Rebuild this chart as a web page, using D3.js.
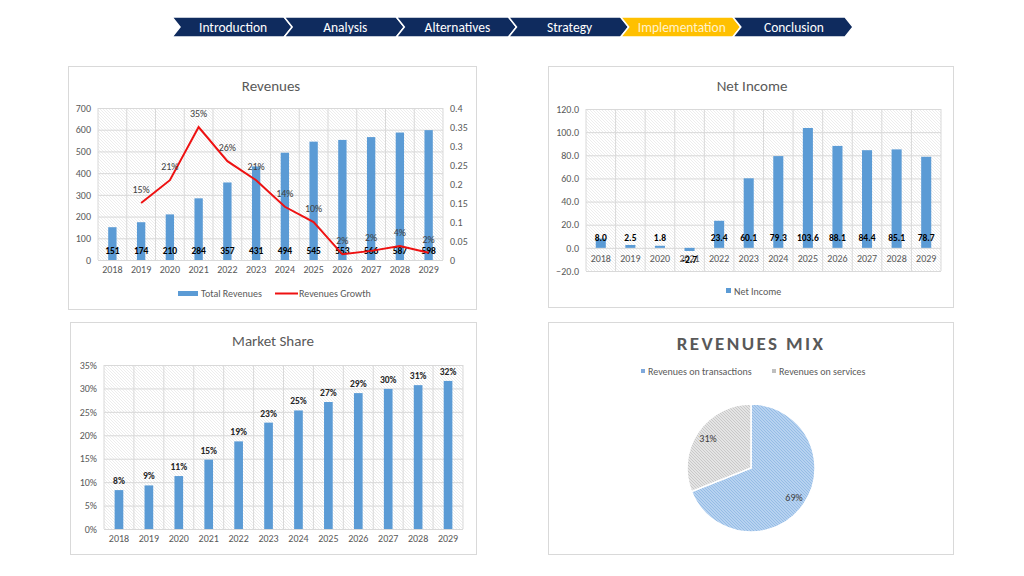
<!DOCTYPE html>
<html lang="en">
<head>
  <meta charset="UTF-8">
  <title>Financial Dashboard</title>
  <style>
    body { margin: 0; background: #fff; }
    * { font-family: Carlito, Calibri, "Open Sans", sans-serif; }
    .tick text { fill: #595959; font-size: 10px; }
    .grid line { stroke: #d9d9d9; stroke-width: 1; }
    .title { fill: #595959; font-size: 15px; text-anchor: middle; }
    .legend { fill: #595959; font-size: 10px; }
  </style>
</head>
<body>
<div id="chart"></div>
<script src="https://d3js.org/d3.v7.min.js"></script>
<script>
  // ---- data ----
  var navSteps = ["Introduction", "Analysis", "Alternatives", "Strategy", "Implementation", "Conclusion"];
  var activeStep = "Implementation";

  var years = ["2018", "2019", "2020", "2021", "2022", "2023", "2024", "2025", "2026", "2027", "2028", "2029"];
  var totalRevenues = [151, 174, 210, 284, 357, 431, 494, 545, 553, 566, 587, 598];
  var revenuesGrowth = [null, 0.15, 0.21, 0.35, 0.26, 0.21, 0.14, 0.10, 0.015, 0.024, 0.037, 0.019];
  var revTicks = [0, 100, 200, 300, 400, 500, 600, 700];
  var growthTicks = [0, 0.05, 0.1, 0.15, 0.2, 0.25, 0.3, 0.35, 0.4];

  var netIncome = [8.0, 2.5, 1.8, -2.7, 23.4, 60.1, 79.3, 103.6, 88.1, 84.4, 85.1, 78.7];
  var niTicks = [-20, 0, 20, 40, 60, 80, 100, 120];

  var marketShare = [0.083, 0.093, 0.113, 0.148, 0.187, 0.227, 0.253, 0.271, 0.290, 0.299, 0.307, 0.316];
  var msTicks = [0, 0.05, 0.1, 0.15, 0.2, 0.25, 0.3, 0.35];

  var mixLabels = ["Revenues on transactions", "Revenues on services"];
  var mixValues = [69, 31];

  var blue = "#5b9bd5";
  var gray = "#595959";

  var svg = d3.select("#chart").append("svg")
      .attr("width", 1024)
      .attr("height", 576);

  // patterns
  var defs = svg.append("defs");
  function hatch(id, bg, fg, size) {
    var p = defs.append("pattern")
        .attr("id", id)
        .attr("width", size).attr("height", size)
        .attr("patternUnits", "userSpaceOnUse");
    p.append("rect").attr("width", size).attr("height", size).attr("fill", bg);
    p.append("path")
        .attr("d", `M0,0 l${size},${size} M-1,${size - 1} l2,2 M${size - 1},-1 l2,2`)
        .attr("stroke", fg).attr("stroke-width", 0.8);
  }
  hatch("plotHatch", "#ffffff", "#e9e9e9", 3);
  hatch("blueHatch", "#b7d2f0", "#8db6e2", 3);
  hatch("grayHatch", "#e4e4e4", "#c2c2c2", 3);

  // ---- navigation bar ----
  var navX = d3.scaleBand().domain(navSteps).range([172, 845]);
  var navH = 20, navTop = 17, tip = 8;
  var nav = svg.append("g").selectAll("g").data(navSteps).enter().append("g");
  nav.append("path")
      .attr("d", function(d) {
        var x0 = navX(d), x1 = x0 + navX.bandwidth();
        return `M${x0},${navTop} L${x1},${navTop} L${x1 + tip},${navTop + navH / 2} L${x1},${navTop + navH} L${x0},${navTop + navH} L${x0 + tip},${navTop + navH / 2} Z`;
      })
      .attr("fill", d => d === activeStep ? "#ffc000" : "#0f2b5e")
      .attr("stroke", "#fff")
      .attr("stroke-width", 1.5);
  nav.append("text")
      .attr("x", d => navX(d) + navX.bandwidth() / 2 + tip / 2 + 1)
      .attr("y", navTop + navH / 2 + 4.5)
      .attr("text-anchor", "middle")
      .attr("font-size", "13.5px")
      .attr("fill", d => d === activeStep ? "#fff2cc" : "#ffffff")
      .text(d => d);

  // ---- helpers ----
  function panel(x, y, w, h) {
    svg.append("rect")
        .attr("x", x + 0.5).attr("y", y + 0.5)
        .attr("width", w).attr("height", h)
        .attr("fill", "#fff")
        .attr("stroke", "#d9d9d9");
  }

  function plotArea(x, yScale, ticks) {
    var r = x.range();
    var yr = yScale.range();
    var g = svg.append("g");
    g.append("rect")
        .attr("x", r[0]).attr("y", yr[1])
        .attr("width", r[1] - r[0]).attr("height", yr[0] - yr[1])
        .attr("fill", "url(#plotHatch)");
    g.append("g")
        .attr("class", "grid")
        .attr("transform", `translate(${r[0]},0)`)
        .call(d3.axisLeft(yScale).tickValues(ticks).tickSize(-(r[1] - r[0])).tickFormat(""))
        .call(s => s.select(".domain").remove());
    // vertical gridlines on category boundaries
    g.selectAll("line.vgrid")
        .data(years.concat(["end"]))
        .enter().append("line")
        .attr("class", "vgrid")
        .attr("x1", d => d === "end" ? r[1] : x(d))
        .attr("x2", d => d === "end" ? r[1] : x(d))
        .attr("y1", yr[1]).attr("y2", yr[0])
        .attr("stroke", "#d9d9d9");
    return g;
  }

  function leftAxis(x0, yScale, ticks, fmt) {
    svg.append("g")
        .attr("transform", `translate(${x0},0)`)
        .call(d3.axisLeft(yScale).tickValues(ticks).tickSize(0).tickPadding(7).tickFormat(fmt))
        .call(s => s.select(".domain").remove());
  }

  function bottomAxis(xScale, y0) {
    svg.append("g")
        .attr("transform", `translate(0,${y0})`)
        .call(d3.axisBottom(xScale).tickSize(0).tickPadding(6))
        .call(s => s.select(".domain").remove());
  }

  // ---- Revenues ----
  panel(68, 66, 408, 243);
  svg.append("text").attr("class", "title").attr("x", 271).attr("y", 91).text("Revenues");

  var xRev = d3.scaleBand().domain(years).range([98, 443]);
  var yRev = d3.scaleLinear().domain([0, 700]).range([260, 108]);
  var yGrowth = d3.scaleLinear().domain([0, 0.4]).range([260, 108]);

  plotArea(xRev, yRev, revTicks);
  leftAxis(98, yRev, revTicks, d3.format("d"));
  svg.append("g")
      .attr("transform", "translate(443,0)")
      .call(d3.axisRight(yGrowth).tickValues(growthTicks).tickSize(0).tickPadding(7).tickFormat(d => d === 0 ? "0" : String(+d.toFixed(2))))
      .call(s => s.select(".domain").remove());
  bottomAxis(xRev, 260);
  svg.append("line").attr("x1", 98).attr("x2", 443).attr("y1", 260.5).attr("y2", 260.5).attr("stroke", "#d9d9d9");

  var revBarW = xRev.bandwidth() * 0.29;
  svg.append("g").selectAll("rect")
      .data(years)
      .enter().append("rect")
      .attr("x", (d, i) => xRev(d) + (xRev.bandwidth() - revBarW) / 2)
      .attr("y", (d, i) => yRev(totalRevenues[i]))
      .attr("width", revBarW)
      .attr("height", (d, i) => yRev(0) - yRev(totalRevenues[i]))
      .attr("fill", blue);

  svg.append("g").selectAll("text")
      .data(years)
      .enter().append("text")
      .attr("x", d => xRev(d) + xRev.bandwidth() / 2)
      .attr("y", 253.5)
      .attr("text-anchor", "middle")
      .attr("font-size", "9.5px")
      .attr("font-weight", "bold")
      .attr("fill", "#000")
      .text((d, i) => totalRevenues[i]);

  var growthPts = years.map((d, i) => ({ year: d, v: revenuesGrowth[i] })).filter(p => p.v !== null);
  svg.append("path")
      .datum(growthPts)
      .attr("fill", "none")
      .attr("stroke", "#ee1111")
      .attr("stroke-width", 2)
      .attr("d", d3.line().x(p => xRev(p.year) + xRev.bandwidth() / 2).y(p => yGrowth(p.v)));
  svg.append("g").selectAll("text")
      .data(growthPts)
      .enter().append("text")
      .attr("x", p => xRev(p.year) + xRev.bandwidth() / 2)
      .attr("y", p => yGrowth(p.v) - 10)
      .attr("text-anchor", "middle")
      .attr("font-size", "10px")
      .attr("fill", "#404040")
      .text(p => Math.round(p.v * 100) + "%");

  // legend
  svg.append("rect").attr("x", 178).attr("y", 291).attr("width", 20).attr("height", 5).attr("fill", blue);
  svg.append("text").attr("class", "legend").attr("x", 201).attr("y", 297).text("Total Revenues");
  svg.append("line").attr("x1", 275).attr("x2", 298).attr("y1", 293.5).attr("y2", 293.5).attr("stroke", "#ee1111").attr("stroke-width", 2);
  svg.append("text").attr("class", "legend").attr("x", 299).attr("y", 297).text("Revenues Growth");

  // ---- Net Income ----
  panel(548, 66, 405, 241);
  svg.append("text").attr("class", "title").attr("x", 752).attr("y", 91).text("Net Income");

  var xNi = d3.scaleBand().domain(years).range([586, 941]);
  var yNi = d3.scaleLinear().domain([-20, 120]).range([271, 109]);

  plotArea(xNi, yNi, niTicks);
  leftAxis(586, yNi, niTicks, d3.format(".1f"));
  bottomAxis(xNi, yNi(0) + 1);

  var niBarW = xNi.bandwidth() * 0.34;
  svg.append("g").selectAll("rect")
      .data(years)
      .enter().append("rect")
      .attr("x", d => xNi(d) + (xNi.bandwidth() - niBarW) / 2)
      .attr("y", (d, i) => yNi(Math.max(0, netIncome[i])))
      .attr("width", niBarW)
      .attr("height", (d, i) => Math.abs(yNi(netIncome[i]) - yNi(0)))
      .attr("fill", blue);
  svg.append("g").selectAll("text")
      .data(years)
      .enter().append("text")
      .attr("x", d => xNi(d) + xNi.bandwidth() / 2)
      .attr("y", (d, i) => netIncome[i] < 0 ? yNi(0) + 15 : yNi(0) - 7)
      .attr("text-anchor", "middle")
      .attr("font-size", "9.5px")
      .attr("font-weight", "bold")
      .attr("fill", "#000")
      .text((d, i) => netIncome[i].toFixed(1));

  svg.append("rect").attr("x", 726).attr("y", 288).attr("width", 5).attr("height", 5).attr("fill", blue);
  svg.append("text").attr("class", "legend").attr("x", 734).attr("y", 294.5).text("Net Income");

  // ---- Market Share ----
  panel(70, 322, 406, 232);
  svg.append("text").attr("class", "title").attr("x", 273).attr("y", 346).text("Market Share");

  var xMs = d3.scaleBand().domain(years).range([104, 463]);
  var yMs = d3.scaleLinear().domain([0, 0.35]).range([529, 365]);

  plotArea(xMs, yMs, msTicks);
  leftAxis(104, yMs, msTicks, d3.format(".0%"));
  bottomAxis(xMs, 529);

  var msBarW = xMs.bandwidth() * 0.29;
  svg.append("g").selectAll("rect")
      .data(years)
      .enter().append("rect")
      .attr("x", d => xMs(d) + (xMs.bandwidth() - msBarW) / 2)
      .attr("y", (d, i) => yMs(marketShare[i]))
      .attr("width", msBarW)
      .attr("height", (d, i) => yMs(0) - yMs(marketShare[i]))
      .attr("fill", blue);
  svg.append("g").selectAll("text")
      .data(years)
      .enter().append("text")
      .attr("x", d => xMs(d) + xMs.bandwidth() / 2)
      .attr("y", (d, i) => yMs(marketShare[i]) - 6)
      .attr("text-anchor", "middle")
      .attr("font-size", "9.5px")
      .attr("font-weight", "bold")
      .attr("fill", "#262626")
      .text((d, i) => Math.round(marketShare[i] * 100) + "%");

  // ---- Revenues Mix ----
  panel(548, 322, 405, 232);
  svg.append("text")
      .attr("x", 751).attr("y", 350)
      .attr("text-anchor", "middle")
      .attr("font-size", "19px")
      .attr("font-weight", "bold")
      .attr("letter-spacing", "2.4px")
      .attr("fill", gray)
      .text("REVENUES MIX");

  var mixFill = ["url(#blueHatch)", "url(#grayHatch)"];
  var mixSwatch = ["#7fa9dc", "#bfbfbf"];
  var legX = [641, 772];
  mixLabels.forEach(function(l, i) {
    svg.append("rect").attr("x", legX[i]).attr("y", 369).attr("width", 4).attr("height", 4).attr("fill", mixSwatch[i]);
    svg.append("text").attr("class", "legend").attr("x", legX[i] + 7).attr("y", 375).text(l);
  });

  var pie = d3.pie().sort(null).value(d => d)(mixValues);
  var arc = d3.arc().innerRadius(0).outerRadius(64);
  var labelArc = d3.arc().innerRadius(52).outerRadius(52);
  var pg = svg.append("g").attr("transform", "translate(751,468)");
  pg.selectAll("path")
      .data(pie)
      .enter().append("path")
      .attr("d", arc)
      .attr("fill", (d, i) => mixFill[i])
      .attr("stroke", "#fff")
      .attr("stroke-width", 1.5);
  pg.selectAll("text")
      .data(pie)
      .enter().append("text")
      .attr("transform", d => `translate(${labelArc.centroid(d)})`)
      .attr("dy", "0.35em")
      .attr("text-anchor", "middle")
      .attr("font-size", "10px")
      .attr("fill", "#404040")
      .text(d => d.data + "%");
</script>
</body>
</html>
